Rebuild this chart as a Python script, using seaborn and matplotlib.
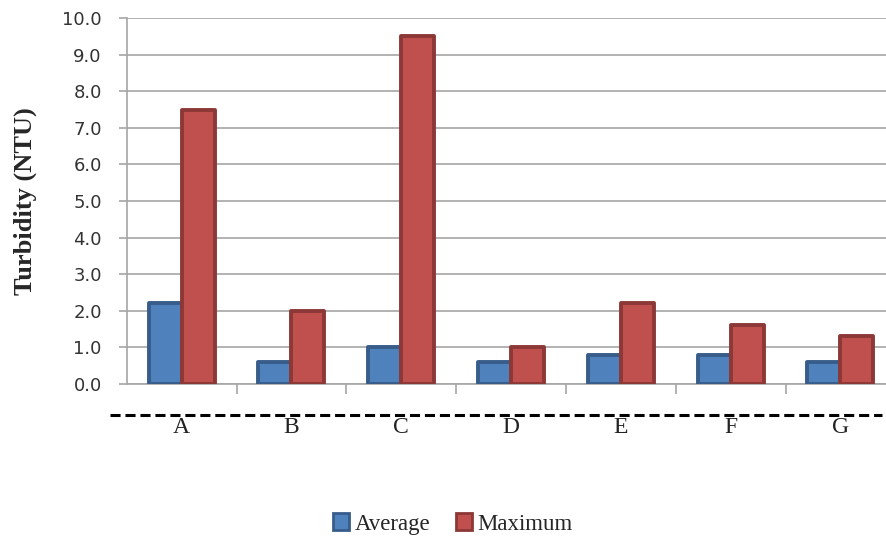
import matplotlib
matplotlib.use("Agg")
import matplotlib.pyplot as plt
from matplotlib.lines import Line2D
import numpy as np
import pandas as pd
import seaborn as sns

# Turbidity readings per sampling site
sites = ["A", "B", "C", "D", "E", "F", "G"]
average = [2.2, 0.6, 1.0, 0.6, 0.8, 0.8, 0.6]
maximum = [7.5, 2.0, 9.5, 1.0, 2.2, 1.6, 1.3]
series_names = ["Average", "Maximum"]

face_colors = ["#4F81BD", "#C0504D"]
edge_colors = ["#385D8A", "#8C3836"]

df = pd.DataFrame({
    "site": sites * 2,
    "series": [series_names[0]] * len(sites) + [series_names[1]] * len(sites),
    "value": average + maximum,
})

sns.set_style("white")
W, H = 886, 537
fig = plt.figure(figsize=(W / 100, H / 100), dpi=100)
# plot area runs a little past the right edge of the canvas
ax = fig.add_axes([126.7 / W, 1 - 384 / H, 768.6 / W, 366 / H])

sns.barplot(data=df, x="site", y="value", hue="series", order=sites,
            hue_order=series_names, palette=face_colors, saturation=1,
            width=0.6, gap=0, errorbar=None, ax=ax, legend=False, zorder=3)

# darker outlines per series
n = len(sites)
for i, patch in enumerate(ax.patches[:2 * n]):
    patch.set_edgecolor(edge_colors[i // n])
    patch.set_linewidth(2.8)
    patch.set_joinstyle("round")

ax.set_ylim(0, 10)
ax.set_xlim(-0.5, n - 0.5)
yt = np.arange(0, 10.01, 1.0)
ax.set_yticks(yt)
ax.set_yticklabels([f"{v:.1f}" for v in yt])
ax.yaxis.grid(True, color="#A6A6A6", linewidth=1.2, zorder=0)
ax.set_axisbelow(True)

for side in ["top", "right"]:
    ax.spines[side].set_visible(False)
for side in ["left", "bottom"]:
    ax.spines[side].set_color("#A6A6A6")
    ax.spines[side].set_linewidth(1.2)

ax.tick_params(axis="y", which="major", direction="out", length=6,
               width=1.2, color="#A6A6A6", pad=12, left=True,
               labelsize=13, labelcolor="#333333", labelfontfamily="DejaVu Sans")

# category labels sit below a dashed separator; boundary ticks on the axis
ax.set_xticks(range(n))
ax.set_xticklabels(sites)
ax.tick_params(axis="x", which="major", length=0, pad=24, labelsize=17,
               labelcolor="#222222", labelfontfamily="Liberation Serif")
ax.set_xticks(np.arange(0.5, n - 1, 1.0), minor=True)
ax.tick_params(axis="x", which="minor", direction="out", length=7,
               width=1.2, color="#A6A6A6", bottom=True)
ax.set_xlabel("")

ax.set_ylabel("Turbidity (NTU)", fontsize=19, family="Liberation Serif",
              fontweight="bold", labelpad=18)

sep = Line2D([110 / W, 882 / W], [1 - 415 / H, 1 - 415 / H],
             transform=fig.transFigure, color="black", linewidth=2.2,
             linestyle=(0, (3.3, 1.6)))
fig.add_artist(sep)

handles = [plt.Rectangle((0, 0), 1, 1, facecolor=fc, edgecolor=ec, linewidth=2)
           for fc, ec in zip(face_colors, edge_colors)]
fig.legend(handles, series_names, loc="center", bbox_to_anchor=(0.511, 1 - 524 / H),
           ncol=2, frameon=False, prop={"family": "Liberation Serif", "size": 16.5},
           handlelength=0.7, handleheight=0.7, handletextpad=0.25, columnspacing=1.1)

fig.savefig("out.png", dpi=100)
